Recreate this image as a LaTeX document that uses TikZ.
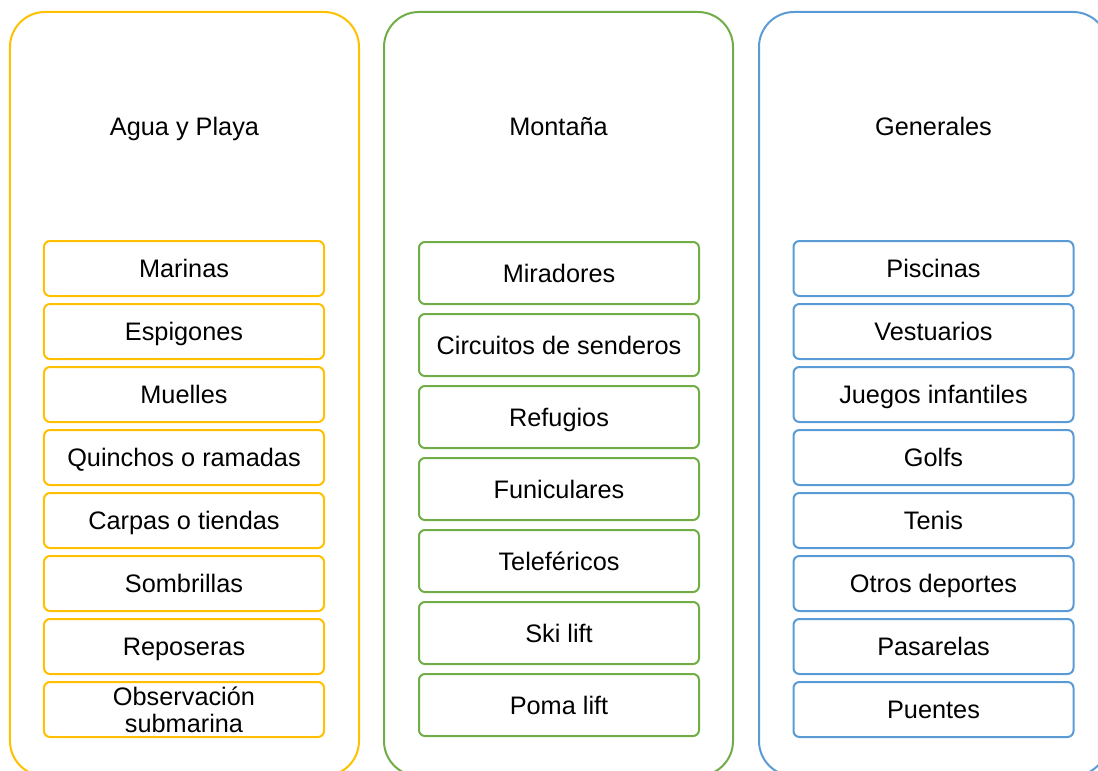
\documentclass[tikz,border=0pt]{standalone}
\usepackage{fontspec}
\setmainfont{Liberation Sans}
\definecolor{amarillo}{HTML}{FFC000}
\definecolor{verde}{HTML}{70AD47}
\definecolor{azul}{HTML}{5B9BD5}

\begin{document}
\begin{tikzpicture}[x=1bp, y=-1bp,
    marco/.style={draw, line width=2bp, rounded corners=35bp, minimum width=349bp, minimum height=764bp, inner sep=0pt},
    item/.style={draw, line width=2bp, rounded corners=6bp, minimum width=280bp, inner sep=0pt, align=center, text height=18bp, text depth=0bp, font=\fontsize{25.3bp}{27bp}\selectfont},
    titulo/.style={inner sep=0pt, text height=18bp, text depth=0bp, font=\fontsize{25.3bp}{27bp}\selectfont}]
    \useasboundingbox (0, 0) rectangle (1098, 771);
    \clip (0, 0) rectangle (1098, 771);
    % columnas
    \node[marco, draw=amarillo] (agua) at (184.5, 394) {};
    \node[marco, draw=verde] (montana) at (558.5, 394) {};
    \node[marco, draw=azul] (generales) at (933.5, 394) {};
    \node[titulo] (t1) at (184.5, 126) {Agua y Playa};
    \node[titulo] (t2) at (558.5, 126) {Montaña};
    \node[titulo] (t3) at (933.5, 126) {Generales};
    % agua y playa
    \node[item, draw=amarillo, minimum height=55bp] (a1) at (184, 268.5) {Marinas};
    \node[item, draw=amarillo, minimum height=55bp] (a2) at (184, 331.5) {Espigones};
    \node[item, draw=amarillo, minimum height=55bp] (a3) at (184, 394.5) {Muelles};
    \node[item, draw=amarillo, minimum height=55bp] (a4) at (184, 457.5) {Quinchos o ramadas};
    \node[item, draw=amarillo, minimum height=55bp] (a5) at (184, 520.5) {Carpas o tiendas};
    \node[item, draw=amarillo, minimum height=55bp] (a6) at (184, 583.5) {Sombrillas};
    \node[item, draw=amarillo, minimum height=55bp] (a7) at (184, 646.5) {Reposeras};
    \node[item, draw=amarillo, minimum height=55bp, text height={}, text depth={}] (a8) at (184, 709.5) {Observación\\submarina};
    % montana
    \node[item, draw=verde, minimum height=62bp] (m1) at (559, 273) {Miradores};
    \node[item, draw=verde, minimum height=62bp] (m2) at (559, 345) {Circuitos de senderos};
    \node[item, draw=verde, minimum height=62bp] (m3) at (559, 417) {Refugios};
    \node[item, draw=verde, minimum height=62bp] (m4) at (559, 489) {Funiculares};
    \node[item, draw=verde, minimum height=62bp] (m5) at (559, 561) {Teleféricos};
    \node[item, draw=verde, minimum height=62bp] (m6) at (559, 633) {Ski lift};
    \node[item, draw=verde, minimum height=62bp] (m7) at (559, 705) {Poma lift};
    % generales
    \node[item, draw=azul, minimum height=55bp] (g1) at (933.5, 268.5) {Piscinas};
    \node[item, draw=azul, minimum height=55bp] (g2) at (933.5, 331.5) {Vestuarios};
    \node[item, draw=azul, minimum height=55bp] (g3) at (933.5, 394.5) {Juegos infantiles};
    \node[item, draw=azul, minimum height=55bp] (g4) at (933.5, 457.5) {Golfs};
    \node[item, draw=azul, minimum height=55bp] (g5) at (933.5, 520.5) {Tenis};
    \node[item, draw=azul, minimum height=55bp] (g6) at (933.5, 583.5) {Otros deportes};
    \node[item, draw=azul, minimum height=55bp] (g7) at (933.5, 646.5) {Pasarelas};
    \node[item, draw=azul, minimum height=55bp] (g8) at (933.5, 709.5) {Puentes};
\end{tikzpicture}
\end{document}
